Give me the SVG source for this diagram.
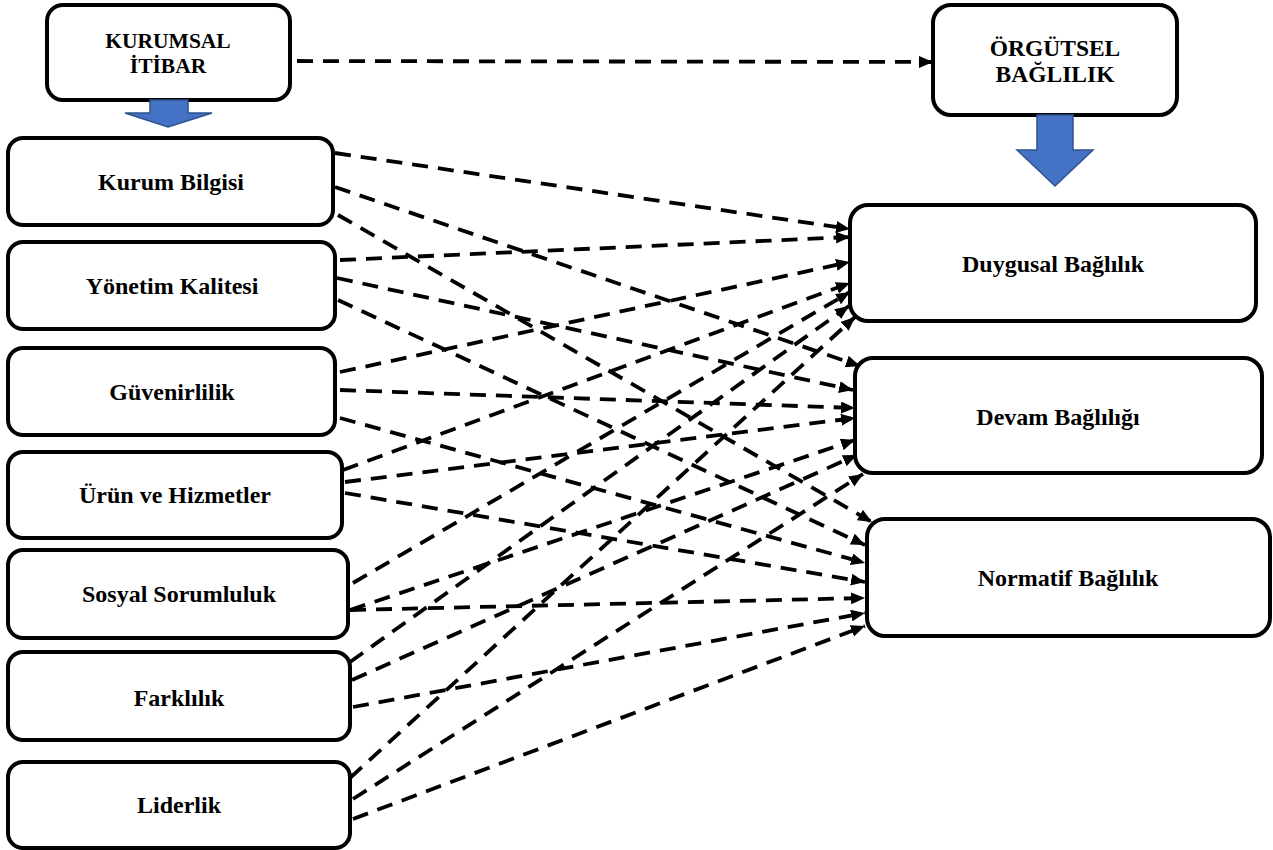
<svg xmlns="http://www.w3.org/2000/svg" width="1273" height="850" viewBox="0 0 1273 850">
<style>
.box{fill:#fff;stroke:#000;stroke-width:4}
.lbl{font-family:'Liberation Serif','Times New Roman','DejaVu Serif',serif;font-weight:bold;font-size:24px;fill:#000;text-anchor:middle}
.hk{font-size:21.5px}
.ho{font-size:23.5px}
.con{fill:none;stroke:#000;stroke-width:3.8;stroke-dasharray:16 10;marker-end:url(#ah)}
.blue{fill:#4472C4;stroke:#2F528F;stroke-width:1.5}
</style>
<defs>
<marker id="ah" viewBox="0 0 14 12" refX="14" refY="6" markerWidth="14" markerHeight="12" markerUnits="userSpaceOnUse" orient="auto">
<path d="M0,0 L14,6 L0,12 z" fill="#000"/>
</marker>
</defs>
<rect width="1273" height="850" fill="#fff"/>
<g id="connectors">
<path class="con" d="M297,61 L933,62"/>
<path class="con" d="M335,153 L850,229"/>
<path class="con" d="M335,187 L860,366"/>
<path class="con" d="M338,215 L872,522"/>
<path class="con" d="M340,260 L850,237"/>
<path class="con" d="M337,278 L853,390"/>
<path class="con" d="M338,300 L865,545"/>
<path class="con" d="M340,372 L850,262"/>
<path class="con" d="M340,390 L855,408"/>
<path class="con" d="M340,418 L865,563"/>
<path class="con" d="M343,470 L850,283"/>
<path class="con" d="M345,482 L855,418"/>
<path class="con" d="M345,493 L865,582"/>
<path class="con" d="M353,583 L850,292"/>
<path class="con" d="M350,610 L855,440"/>
<path class="con" d="M350,610 L865,598"/>
<path class="con" d="M350,662 L849,306"/>
<path class="con" d="M352,680 L857,455"/>
<path class="con" d="M353,707 L865,613"/>
<path class="con" d="M350,778 L855,317"/>
<path class="con" d="M353,799 L863,474"/>
<path class="con" d="M353,819 L865,626"/>
</g>
<g id="kurumsal-itibar">
<rect class="box" x="47" y="5" width="243" height="95" rx="16"/>
<text class="lbl hk" x="168" y="48">KURUMSAL</text>
<text class="lbl hk" x="168" y="73">İTİBAR</text>
<polygon class="blue" points="150,100 188,100 188,113 212,113 168,127 125,113 150,113"/>
</g>
<g id="orgutsel-baglilik">
<rect class="box" x="933" y="5" width="244" height="110" rx="18"/>
<text class="lbl ho" x="1055" y="56">ÖRGÜTSEL</text>
<text class="lbl ho" x="1055" y="82">BAĞLILIK</text>
<polygon class="blue" points="1037,115 1073,115 1073,150 1093,150 1055,186 1017,150 1037,150"/>
</g>
<g id="kurum-bilgisi">
<rect class="box" x="8" y="138" width="325" height="87" rx="15"/>
<text class="lbl" x="171" y="190">Kurum Bilgisi</text>
</g>
<g id="yonetim-kalitesi">
<rect class="box" x="8" y="242" width="327" height="87" rx="15"/>
<text class="lbl" x="172" y="294">Yönetim Kalitesi</text>
</g>
<g id="guvenirlilik">
<rect class="box" x="8" y="348" width="327" height="87" rx="15"/>
<text class="lbl" x="172" y="400">Güvenirlilik</text>
</g>
<g id="urun-hizmetler">
<rect class="box" x="8" y="452" width="334" height="86" rx="15"/>
<text class="lbl" x="175" y="503">Ürün ve Hizmetler</text>
</g>
<g id="sosyal-sorumluluk">
<rect class="box" x="8" y="550" width="340" height="88" rx="15"/>
<text class="lbl" x="179" y="602">Sosyal Sorumluluk</text>
</g>
<g id="farklilik">
<rect class="box" x="8" y="652" width="342" height="88" rx="15"/>
<text class="lbl" x="179" y="706">Farklılık</text>
</g>
<g id="liderlik">
<rect class="box" x="8" y="762" width="342" height="86" rx="15"/>
<text class="lbl" x="179" y="813">Liderlik</text>
</g>
<g id="duygusal-baglilik">
<rect class="box" x="850" y="205" width="406" height="116" rx="18"/>
<text class="lbl" x="1053" y="272">Duygusal Bağlılık</text>
</g>
<g id="devam-bagliligi">
<rect class="box" x="855" y="358" width="407" height="115" rx="18"/>
<text class="lbl" x="1058" y="425">Devam Bağlılığı</text>
</g>
<g id="normatif-baglilik">
<rect class="box" x="867" y="519" width="403" height="117" rx="18"/>
<text class="lbl" x="1068" y="586">Normatif Bağlılık</text>
</g>
</svg>
